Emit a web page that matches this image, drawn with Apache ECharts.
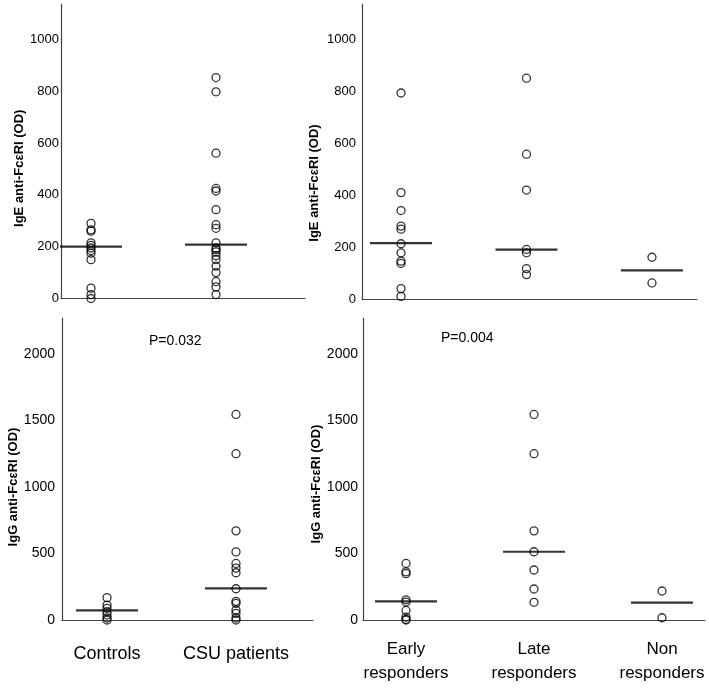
<!DOCTYPE html>
<html>
<head>
<meta charset="utf-8">
<script src="https://cdn.jsdelivr.net/npm/echarts@6/dist/echarts.min.js"></script>
<style>
html,body{margin:0;padding:0;background:#fff;}
#chart{width:709px;height:688px;}
</style>
</head>
<body>
<div id="chart"></div>
<script>
// ---- data ----
var groupsA = ['Controls', 'CSU patients'];
var groupsB = ['Early\nresponders', 'Late\nresponders', 'Non\nresponders'];

var igeControls = [290, 265, 260, 215, 205, 195, 185, 175, 150, 40, 15, 0];
var igeCSU = [853, 798, 561, 425, 415, 343, 285, 271, 215, 195, 188, 180, 165, 150, 125, 100, 65, 45, 15];
var igeMedianA = [200, 208];

var igeEarly = [794, 410, 341, 281, 269, 213, 178, 146, 137, 40, 10];
var igeLate = [851, 558, 420, 191, 178, 117, 94];
var igeNon = [161, 62];
var igeMedianB = [215, 190, 110];

var iggControls = [168, 112, 88, 62, 38, 15, 0];
var iggCSU = [1545, 1250, 670, 512, 425, 390, 355, 235, 140, 125, 75, 50, 15, 0];
var iggMedianA = [72, 238];

var iggEarly = [425, 362, 348, 152, 135, 72, 22, 5, 0];
var iggLate = [1545, 1250, 670, 513, 376, 233, 133];
var iggNon = [218, 17];
var iggMedianB = [140, 513, 130];

var igeTicks = [0, 200, 400, 600, 800, 1000];
var iggTicks = [0, 500, 1000, 1500, 2000];
var pLeft = 'P=0.032';
var pRight = 'P=0.004';

// ---- helpers ----
var FONT = "'Liberation Sans', Arial, Helvetica, sans-serif";

function pts(vals, idx) { return vals.map(function (v) { return [idx, v]; }); }
function medPts(meds) { return meds.map(function (v, i) { return [i + 1, v]; }); }

function dots(vals, idx, axis) {
  return {
    type: 'scatter', xAxisIndex: axis, yAxisIndex: axis,
    data: pts(vals, idx + 1), symbol: 'circle', symbolSize: 8,
    itemStyle: { color: 'rgba(0,0,0,0)', borderColor: '#000', borderWidth: 1.3 },
    silent: true, z: 3
  };
}
function medians(meds, axis) {
  return {
    type: 'scatter', xAxisIndex: axis, yAxisIndex: axis,
    data: medPts(meds), symbol: 'rect', symbolSize: [62, 2.2],
    itemStyle: { color: '#000' }, silent: true, z: 4
  };
}
function yAx(grid, max, ticks, name, margin, pad, fs, gap) {
  return {
    type: 'value', gridIndex: grid, min: 0, max: max, interval: ticks[1] - ticks[0],
    axisLine: { show: true, onZero: false, lineStyle: { color: '#444', width: 1.2 } },
    axisTick: { show: false }, splitLine: { show: false },
    axisLabel: { show: true, margin: margin, fontSize: fs, color: '#000', fontFamily: FONT,
      customValues: ticks, formatter: function (v) { return String(v); } },
    name: name, nameLocation: 'middle', nameGap: gap,
    nameTextStyle: { fontSize: 13, fontWeight: 'bold', color: '#000', fontFamily: FONT, padding: [0, pad, 0, 0] }
  };
}
function xAx(grid, min, max, labels, fs, margin) {
  var ax = {
    type: 'value', gridIndex: grid, min: min, max: max,
    axisLine: { show: true, onZero: false, lineStyle: { color: '#444', width: 1.2 } },
    axisTick: { show: false }, splitLine: { show: false },
    axisLabel: { show: false }
  };
  if (labels) {
    ax.axisLabel = {
      show: true, customValues: labels.map(function (l, i) { return i + 1; }),
      formatter: function (v) { return labels[Math.round(v) - 1] || ''; },
      fontSize: fs, lineHeight: 24, color: '#000', fontFamily: FONT, margin: margin,
      verticalAlign: 'top', showMinLabel: true, showMaxLabel: true
    };
  }
  return ax;
}

var option = {
  animation: false,
  backgroundColor: '#fff',
  title: [
    { text: pLeft, left: 149, top: 334, padding: 0, textStyle: { fontSize: 14, fontWeight: 'normal', color: '#000', fontFamily: FONT } },
    { text: pRight, left: 441, top: 331, padding: 0, textStyle: { fontSize: 14, fontWeight: 'normal', color: '#000', fontFamily: FONT } }
  ],
  grid: [
    { left: 61, top: 4, width: 244, height: 294.5 },
    { left: 362, top: 4, width: 335, height: 295 },
    { left: 62, top: 318, width: 251, height: 302 },
    { left: 363, top: 318, width: 342, height: 302 }
  ],
  xAxis: [
    xAx(0, 0.76, 2.712, null),
    xAx(1, 0.689, 3.359, null),
    xAx(2, 0.651, 2.597, groupsA, 18, 22),
    xAx(3, 0.664, 3.336, groupsB, 17, 17)
  ],
  yAxis: [
    yAx(0, 1137, igeTicks, 'IgE anti-FcεRI (OD)', 2, 34, 13, 30),
    yAx(1, 1137, igeTicks, 'IgE anti-FcεRI (OD)', 6, 63, 13, 41),
    yAx(2, 2270, iggTicks, 'IgG anti-FcεRI (OD)', 7, 36, 14, 34),
    yAx(3, 2270, iggTicks, 'IgG anti-FcεRI (OD)', 5, 30, 14, 34)
  ],
  series: [
    dots(igeControls, 0, 0), dots(igeCSU, 1, 0), medians(igeMedianA, 0),
    dots(igeEarly, 0, 1), dots(igeLate, 1, 1), dots(igeNon, 2, 1), medians(igeMedianB, 1),
    dots(iggControls, 0, 2), dots(iggCSU, 1, 2), medians(iggMedianA, 2),
    dots(iggEarly, 0, 3), dots(iggLate, 1, 3), dots(iggNon, 2, 3), medians(iggMedianB, 3)
  ]
};

var chart = echarts.init(document.getElementById('chart'), null, { renderer: 'canvas' });
chart.setOption(option);
</script>
</body>
</html>
